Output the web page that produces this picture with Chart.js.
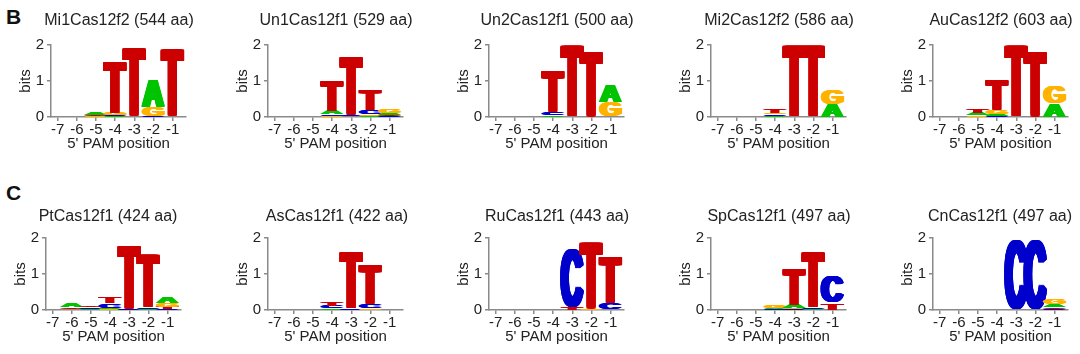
<!DOCTYPE html>
<html>
<head>
<meta charset="utf-8">
<script src="https://cdn.jsdelivr.net/npm/chart.js@4"></script>
<style>
    html, body { margin: 0; padding: 0; background: #fff; }
    #wrap { position: relative; width: 1080px; height: 354px; overflow: hidden; }
    #wrap canvas { position: absolute; }
    .tag { position: absolute; font: bold 21px 'Liberation Sans', Arial, sans-serif; color: #111; }
</style>
</head>
<body>
<div id="wrap">
    <div class="tag" style="left:6px; top:5px;">B</div>
    <div class="tag" style="left:6px; top:181px;">C</div>
</div>
<script>
// ===== DATA (bits per nucleotide, positions -7 .. -1) =====
const POSITIONS = [-7, -6, -5, -4, -3, -2, -1];
const NUCLEOTIDES = ['A', 'C', 'G', 'T'];

// Mi1Cas12f2
const mi1_A = [0, 0, 0.06, 0.02, 0, 0.75, 0];
const mi1_C = [0, 0, 0.01, 0.02, 0, 0.02, 0];
const mi1_G = [0, 0, 0.02, 0.06, 0, 0.25, 0];
const mi1_T = [0, 0, 0.03, 1.45, 1.9, 0, 1.88];
// Un1Cas12f1
const un1_A = [0, 0, 0, 0.1, 0.01, 0.03, 0.07];
const un1_C = [0, 0, 0, 0.05, 0.04, 0.1, 0.02];
const un1_G = [0, 0, 0, 0.02, 0.01, 0.04, 0.1];
const un1_T = [0, 0, 0, 0.83, 1.62, 0.6, 0.03];
// Un2Cas12f1
const un2_A = [0, 0, 0, 0.03, 0, 0, 0.47];
const un2_C = [0, 0, 0, 0.08, 0, 0, 0];
const un2_G = [0, 0, 0, 0.01, 0, 0, 0.4];
const un2_T = [0, 0, 0, 1.15, 1.98, 1.82, 0];
// Mi2Cas12f2
const mi2_A = [0, 0, 0, 0.03, 0, 0, 0.35];
const mi2_C = [0, 0, 0, 0.04, 0, 0, 0];
const mi2_G = [0, 0, 0, 0.05, 0, 0, 0.43];
const mi2_T = [0, 0, 0, 0.1, 2.0, 2.0, 0];
// AuCas12f2
const au_A = [0, 0, 0.07, 0.07, 0, 0, 0.37];
const au_C = [0, 0, 0.01, 0.02, 0, 0, 0];
const au_G = [0, 0, 0.03, 0.1, 0, 0, 0.5];
const au_T = [0, 0, 0.1, 0.83, 1.98, 1.82, 0];
// PtCas12f1
const pt_A = [0, 0.1, 0.02, 0.04, 0, 0.02, 0.17];
const pt_C = [0, 0.01, 0.04, 0.12, 0.03, 0.05, 0.02];
const pt_G = [0, 0.01, 0.01, 0.02, 0, 0, 0.12];
const pt_T = [0, 0.05, 0.05, 0.18, 1.78, 1.46, 0.06];
// AsCas12f1
const as_A = [0, 0, 0, 0.03, 0, 0.01, 0];
const as_C = [0, 0, 0, 0.07, 0.04, 0.12, 0];
const as_G = [0, 0, 0, 0.01, 0, 0.03, 0.01];
const as_T = [0, 0, 0, 0.1, 1.58, 1.1, 0];
// RuCas12f1
const ru_A = [0, 0, 0, 0, 0, 0, 0];
const ru_C = [0, 0, 0, 0, 1.62, 0, 0.18];
const ru_G = [0, 0, 0, 0, 0.01, 0.02, 0.01];
const ru_T = [0, 0, 0, 0, 0.06, 1.86, 1.28];
// SpCas12f1
const sp_A = [0, 0, 0, 0.03, 0.1, 0.02, 0];
const sp_C = [0, 0, 0, 0.02, 0.02, 0.05, 0.75];
const sp_G = [0, 0, 0, 0.07, 0.02, 0, 0];
const sp_T = [0, 0, 0, 0, 1.0, 1.55, 0.2];
// CnCas12f1
const cn_A = [0, 0, 0, 0, 0, 0, 0.08];
const cn_C = [0, 0, 0, 0, 1.97, 1.97, 0.03];
const cn_G = [0, 0, 0, 0, 0, 0, 0.13];
const cn_T = [0, 0, 0, 0, 0, 0, 0.05];

const Y_TICKS = [0, 1, 2];

// ===== PANELS =====
const PANELS = [
    { title: 'Mi1Cas12f2 (544 aa)', A: mi1_A, C: mi1_C, G: mi1_G, T: mi1_T },
    { title: 'Un1Cas12f1 (529 aa)', A: un1_A, C: un1_C, G: un1_G, T: un1_T },
    { title: 'Un2Cas12f1 (500 aa)', A: un2_A, C: un2_C, G: un2_G, T: un2_T },
    { title: 'Mi2Cas12f2 (586 aa)', A: mi2_A, C: mi2_C, G: mi2_G, T: mi2_T },
    { title: 'AuCas12f2 (603 aa)', A: au_A, C: au_C, G: au_G, T: au_T },
    { title: 'PtCas12f1 (424 aa)', A: pt_A, C: pt_C, G: pt_G, T: pt_T },
    { title: 'AsCas12f1 (422 aa)', A: as_A, C: as_C, G: as_G, T: as_T },
    { title: 'RuCas12f1 (443 aa)', A: ru_A, C: ru_C, G: ru_G, T: ru_T },
    { title: 'SpCas12f1 (497 aa)', A: sp_A, C: sp_C, G: sp_G, T: sp_T },
    { title: 'CnCas12f1 (497 aa)', A: cn_A, C: cn_C, G: cn_G, T: cn_T }
];

// ===== LAYOUT / STYLE =====
// axisX = page x of the y axis, titleX = centre of the panel title
const LAYOUT = [
    { axisX: 51, titleX: 119, top: 0 },
    { axisX: 268, titleX: 336, top: 0 },
    { axisX: 489, titleX: 557, top: 0 },
    { axisX: 711, titleX: 779, top: 0 },
    { axisX: 933, titleX: 1001, top: 0 },
    { axisX: 46, titleX: 108, top: 193 },
    { axisX: 268, titleX: 337, top: 193 },
    { axisX: 489, titleX: 557, top: 193 },
    { axisX: 711, titleX: 779, top: 193 },
    { axisX: 933, titleX: 1000, top: 193 }
];
const FONT = "'Liberation Sans', Arial, Helvetica, sans-serif";
const LETTER_COLORS = { A: '#00c400', C: '#0000cc', G: '#ffb300', T: '#cc0000' };
const LETTER_WIDTH = 1.26;   // in position units, letters overlap a little
const SMEAR_X = 5;           // px, makes the stems as heavy as in the logo font
const SMEAR_Y = 0.03;        // share of the letter height
const Y_AXIS_W = 50;
const PLOT_W = 135;
const PLOT_TOP = 45;
const PLOT_H = 72;
const X_AXIS_H = 38;
const CANVAS_W = 230;
const TITLE_Y = { 0: 21, 193: 24 };

// glyph bounds measured once so each letter can be stretched to its box
const glyphCtx = document.createElement('canvas').getContext('2d');
glyphCtx.font = `bold 200px ${FONT}`;
const GLYPHS = {};
NUCLEOTIDES.forEach(n => {
    const m = glyphCtx.measureText(n);
    GLYPHS[n] = {
        left: m.actualBoundingBoxLeft,
        width: m.actualBoundingBoxLeft + m.actualBoundingBoxRight,
        ascent: m.actualBoundingBoxAscent,
        height: m.actualBoundingBoxAscent + m.actualBoundingBoxDescent
    };
});

function drawGlyph(ctx, letter, x, y, w, h) {
    if (h <= 0.2) return;
    const g = GLYPHS[letter];
    const sx = Math.min(SMEAR_X, w * 0.22);
    const sy = Math.min(3, h * SMEAR_Y);
    ctx.save();
    ctx.font = `bold 200px ${FONT}`;
    ctx.textAlign = 'left';
    ctx.textBaseline = 'alphabetic';
    ctx.fillStyle = LETTER_COLORS[letter];
    for (let dy = 0; dy <= sy + 0.01; dy += 0.75) {
        for (let dx = 0; dx <= sx + 0.01; dx += 0.75) {
            ctx.save();
            ctx.translate(x + dx, y + dy);
            ctx.scale((w - sx) / g.width, (h - sy) / g.height);
            ctx.fillText(letter, g.left, g.ascent);
            ctx.restore();
        }
    }
    ctx.restore();
}

// stacks the letters of each position, smallest at the bottom
const seqLogoPlugin = {
    id: 'seqLogo',
    afterDatasetsDraw(chart) {
        const { ctx, scales: { x, y } } = chart;
        const unit = Math.abs(x.getPixelForValue(1) - x.getPixelForValue(0));
        const w = unit * LETTER_WIDTH;
        POSITIONS.forEach((pos, i) => {
            const stack = chart.data.datasets
                .map(ds => ({ letter: ds.label, h: ds.data[i].y }))
                .filter(s => s.h > 0)
                .sort((a, b) => a.h - b.h);
            const cx = x.getPixelForValue(pos);
            let cum = 0;
            stack.forEach(s => {
                const yb = y.getPixelForValue(cum);
                const yt = y.getPixelForValue(cum + s.h);
                drawGlyph(ctx, s.letter, cx - w / 2, yt, w, yb - yt);
                cum += s.h;
            });
        });
    }
};

// panel title, centred on the plot with a small per-panel shift
const panelTitlePlugin = {
    id: 'panelTitle',
    afterDraw(chart, args, opts) {
        const { ctx, chartArea } = chart;
        ctx.save();
        ctx.font = `16px ${FONT}`;
        ctx.fillStyle = opts.color;
        ctx.textAlign = 'center';
        ctx.textBaseline = 'middle';
        ctx.fillText(opts.text, (chartArea.left + chartArea.right) / 2 + opts.offsetX, opts.y);
        ctx.restore();
    }
};

function buildPanel(panel, lay) {
    const wrap = document.getElementById('wrap');
    const canvas = document.createElement('canvas');
    const left = lay.axisX - Y_AXIS_W;
    canvas.width = CANVAS_W;
    canvas.height = PLOT_TOP + PLOT_H + X_AXIS_H;
    canvas.style.left = left + 'px';
    canvas.style.top = lay.top + 'px';
    wrap.appendChild(canvas);

    const axisColor = '#8a8a8a';
    const textColor = '#222';

    new Chart(canvas, {
        type: 'scatter',
        data: {
            datasets: NUCLEOTIDES.map(n => ({
                label: n,
                data: POSITIONS.map((p, i) => ({ x: p, y: panel[n][i] })),
                pointRadius: 0
            }))
        },
        options: {
            responsive: false,
            animation: false,
            events: [],
            layout: { padding: { left: 0, top: PLOT_TOP, bottom: 0, right: CANVAS_W - Y_AXIS_W - PLOT_W } },
            plugins: {
                legend: { display: false },
                tooltip: { enabled: false },
                title: { display: false },
                panelTitle: {
                    text: panel.title,
                    color: textColor,
                    y: TITLE_Y[lay.top],
                    offsetX: lay.titleX - (lay.axisX + PLOT_W / 2)
                }
            },
            scales: {
                x: {
                    type: 'linear',
                    min: -7.35,
                    max: -0.3,
                    ticks: {
                        stepSize: 1,
                        includeBounds: false,
                        padding: 0,
                        maxRotation: 0,
                        color: textColor,
                        font: { family: FONT, size: 15 }
                    },
                    grid: { drawOnChartArea: false, tickLength: 4, color: axisColor, lineWidth: 1.5 },
                    border: { color: axisColor, width: 1.5 },
                    title: {
                        display: true,
                        text: "5' PAM position",
                        color: textColor,
                        font: { family: FONT, size: 15 },
                        padding: { top: 0, bottom: 2.6 }
                    },
                    afterFit: s => { s.height = X_AXIS_H; }
                },
                y: {
                    min: 0,
                    max: 2,
                    afterBuildTicks: s => { s.ticks = Y_TICKS.map(v => ({ value: v })); },
                    ticks: {
                        padding: 3,
                        color: textColor,
                        font: { family: FONT, size: 15 }
                    },
                    grid: { drawOnChartArea: false, tickLength: 4, color: axisColor, lineWidth: 1.5 },
                    border: { color: axisColor, width: 1.5 },
                    title: {
                        display: true,
                        text: 'bits',
                        color: textColor,
                        font: { family: FONT, size: 15 },
                        padding: { top: 16, bottom: 0 }
                    },
                    afterFit: s => { s.width = Y_AXIS_W; }
                }
            }
        },
        plugins: [seqLogoPlugin, panelTitlePlugin]
    });
}

PANELS.forEach((p, i) => buildPanel(p, LAYOUT[i]));
</script>
</body>
</html>
